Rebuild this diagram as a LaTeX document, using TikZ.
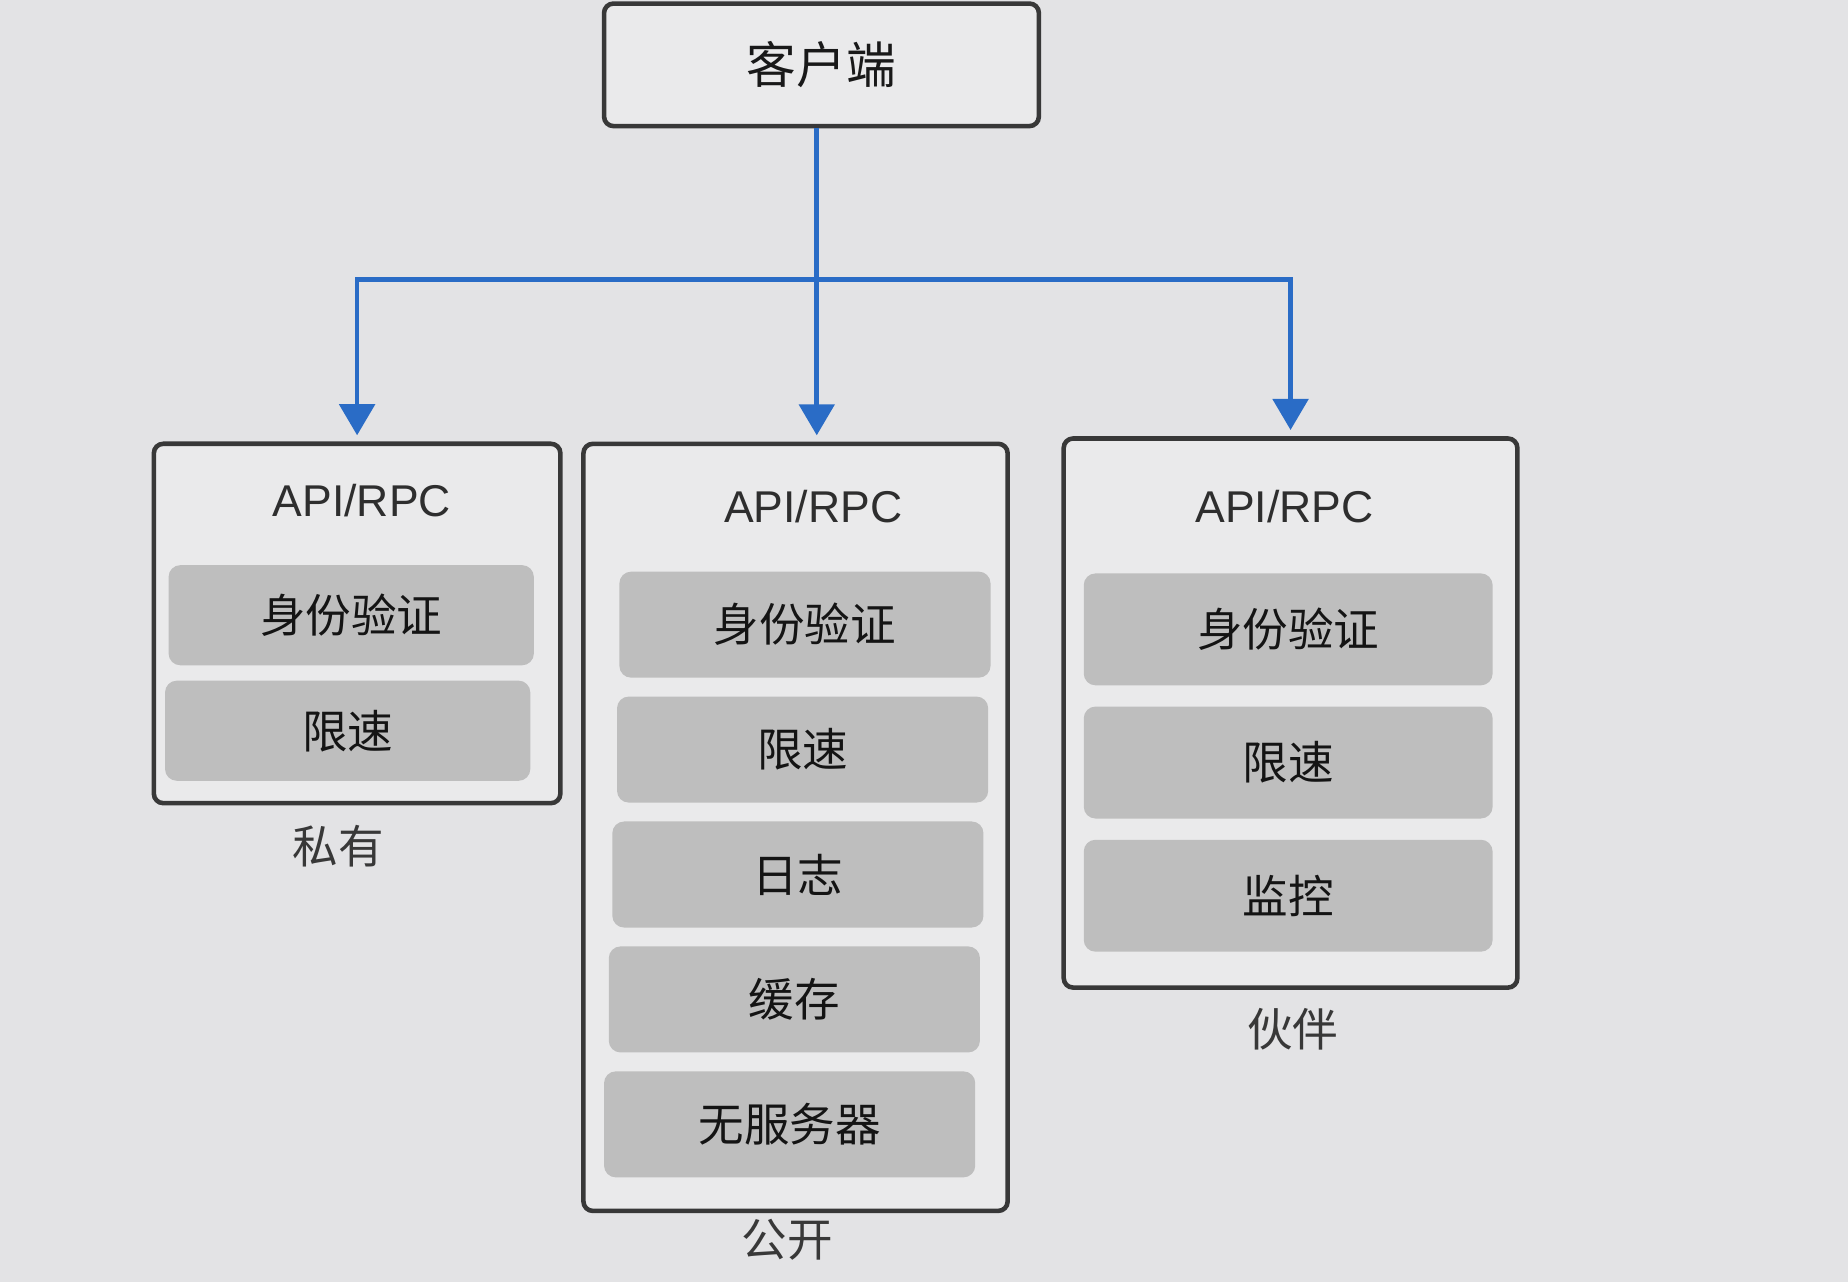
\documentclass[tikz,border=0pt]{standalone}
\usepackage{fontspec}
\setmainfont{Liberation Sans}
\newfontfamily\cjk{Noto Sans CJK SC}
\usetikzlibrary{arrows.meta}
\definecolor{paper}{HTML}{E3E3E5}
\definecolor{boxfill}{HTML}{EAEAEB}
\definecolor{layergray}{HTML}{BEBEBE}
\definecolor{edgegray}{HTML}{383838}
\definecolor{flowblue}{HTML}{2A6CC6}
\begin{document}
\begin{tikzpicture}[x=0.02cm,y=-0.02cm,
        outer/.style={draw=edgegray,line width=2.2pt,fill=boxfill,rounded corners=0.16cm},
        layer/.style={fill=layergray,rounded corners=0.2cm,text=black!92,font=\cjk\fontsize{22}{26}\selectfont},
        apitext/.style={text=black!82,font=\fontsize{21.5}{26}\selectfont},
        captext/.style={text=black!78,font=\cjk\fontsize{22}{26}\selectfont},
        arr/.style={flowblue,line width=2.3pt,-{Triangle[width=17pt,length=15pt]},shorten >=3pt}]
                \fill[paper] (0,0) rectangle (1568,1088);
                \node[outer,minimum width=7.38cm,minimum height=2.08cm,font=\cjk\fontsize{24}{28}\selectfont,text=black!90] (client) at (697,55) {客户端};
                \node[outer,minimum width=6.9cm,minimum height=6.1cm] (priv) at (303,529) {};
                \node[outer,minimum width=7.2cm,minimum height=13.02cm] (pub) at (675,702) {};
                \node[outer,minimum width=7.7cm,minimum height=9.32cm] (partner) at (1095,605) {};
                \node[apitext] (privapi) at (307,425) {API/RPC};
                \node[apitext] (pubapi) at (690,430) {API/RPC};
                \node[apitext] (partnerapi) at (1090,430) {API/RPC};
                \node[layer,minimum width=6.2cm,minimum height=1.7cm] (privauth) at (298,522) {身份验证};
                \node[layer,minimum width=6.2cm,minimum height=1.7cm] (privrate) at (295,620) {限速};
                \node[layer,minimum width=6.3cm,minimum height=1.8cm] (pubauth) at (683,530) {身份验证};
                \node[layer,minimum width=6.3cm,minimum height=1.8cm] (pubrate) at (681,636) {限速};
                \node[layer,minimum width=6.3cm,minimum height=1.8cm] (publog) at (677,742) {日志};
                \node[layer,minimum width=6.3cm,minimum height=1.8cm] (pubcache) at (674,848) {缓存};
                \node[layer,minimum width=6.3cm,minimum height=1.8cm] (pubserverless) at (670,954) {无服务器};
                \node[layer,minimum width=6.94cm,minimum height=1.9cm] (partnerauth) at (1093,534) {身份验证};
                \node[layer,minimum width=6.94cm,minimum height=1.9cm] (partnerrate) at (1093,647) {限速};
                \node[layer,minimum width=6.94cm,minimum height=1.9cm] (partnermon) at (1093,760) {监控};
                \node[captext] (privcap) at (287,718) {私有};
                \node[captext] (pubcap) at (668,1052) {公开};
                \node[captext] (partnercap) at (1097,873) {伙伴};
                \coordinate (bus) at (693,237);
                \draw[arr] (client.south -| bus) -- (bus |- pub.north);
                \draw[arr] (bus) -| (priv.north);
                \draw[arr] (bus) -| (partner.north);
            \end{tikzpicture}
\end{document}
